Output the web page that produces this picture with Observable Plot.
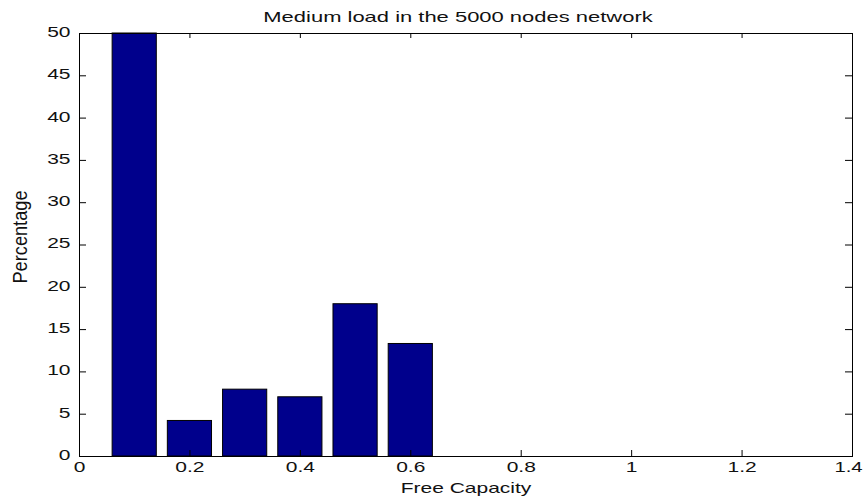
<!DOCTYPE html>
<html>
<head>
<meta charset="utf-8">
<script src="https://cdn.jsdelivr.net/npm/d3@7"></script>
<script src="https://cdn.jsdelivr.net/npm/@observablehq/plot@0.6"></script>
<style>
  html, body { margin: 0; padding: 0; background: #fff; }
  #chart svg { display: block; }
</style>
</head>
<body>
<div id="chart"></div>
<script>
// Histogram of free capacity (bin centres) and the share of links in each bin
const binCenters = [0.1, 0.2, 0.3, 0.4, 0.5, 0.6];
const percentages = [50, 4.2, 7.9, 7.0, 18.0, 13.3];

const xTickValues = [0, 0.2, 0.4, 0.6, 0.8, 1, 1.2, 1.4];
const yTickValues = [0, 5, 10, 15, 20, 25, 30, 35, 40, 45, 50];

const titleText = "Medium load in the 5000 nodes network";
const xLabelText = "Free Capacity";
const yLabelText = "Percentage";

const bins = binCenters.map((c, i) => ({center: c, value: percentages[i]}));
const barWidth = 0.08;

const W = 865, H = 503;
const margin = {top: 33, right: 13, bottom: 47, left: 79};
const frameW = W - margin.left - margin.right;
const frameH = H - margin.top - margin.bottom;
const tickLenX = 6, tickLenY = 7;

const chart = Plot.plot({
  width: W,
  height: H,
  marginTop: margin.top,
  marginRight: margin.right,
  marginBottom: margin.bottom,
  marginLeft: margin.left,
  style: {fontFamily: "'Liberation Sans', Arial, sans-serif", fontSize: "14px", color: "#111", background: "#fff"},
  x: {domain: [0, 1.4]},
  y: {domain: [0, 50]},
  marks: [
    Plot.rectY(bins, {
      x1: d => d.center - barWidth / 2,
      x2: d => d.center + barWidth / 2,
      y: "value",
      fill: "#00008c",
      stroke: "#000",
      strokeWidth: 1
    }),
    // inward ticks on all four sides of the box
    Plot.tickX(xTickValues, {x: d => d, insetTop: frameH - tickLenX, stroke: "#000"}),
    Plot.tickX(xTickValues, {x: d => d, insetBottom: frameH - tickLenX + 1, stroke: "#000"}),
    Plot.tickY(yTickValues, {y: d => d, insetRight: frameW - tickLenY, stroke: "#000"}),
    Plot.tickY(yTickValues, {y: d => d, insetLeft: frameW - tickLenY, stroke: "#000"}),
    Plot.frame({stroke: "#000"}),
    Plot.axisX({ticks: xTickValues, tickSize: 0, tickPadding: 6, label: null, tickFormat: d => String(d)}),
    Plot.axisY({ticks: yTickValues, tickSize: 0, tickPadding: 9, label: null, dy: -1}),
    Plot.text([titleText], {frameAnchor: "top", lineAnchor: "middle", textAnchor: "middle", dy: -16, dx: -8, text: d => d, fill: "#111"}),
    Plot.text([xLabelText], {frameAnchor: "bottom", lineAnchor: "middle", textAnchor: "middle", dy: 32, text: d => d, fill: "#111"}),
    Plot.text([yLabelText], {frameAnchor: "left", lineAnchor: "middle", textAnchor: "middle", dx: -59, dy: -8, rotate: -90, text: d => d, fill: "#111"})
  ]
});

// widen the lettering to the broad face used in the figure
d3.select(chart).selectAll("text").each(function() {
  const t = d3.select(this);
  const tr = t.attr("transform") || "";
  const label = t.text();
  let s = " scale(1.5,1)";
  if (label === yLabelText) s = " scale(1.3,1.4)";
  else if (label === titleText) s = " scale(1.57,1)";
  else if (label === "1.4") s = " translate(-4,0) scale(1.45,1)";
  t.attr("transform", tr + s);
});

document.getElementById("chart").appendChild(chart);
</script>
</body>
</html>
